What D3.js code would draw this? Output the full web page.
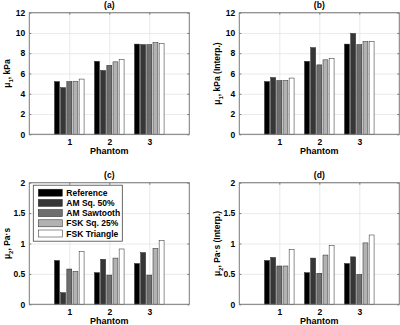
<!DOCTYPE html>
<html>
<head>
<meta charset="utf-8">
<script src="https://cdn.jsdelivr.net/npm/d3@7"></script>
<style>
  body { margin: 0; background: #fff; }
  svg { display: block; }
  text { font-family: "Liberation Sans", Arial, sans-serif; font-weight: bold; fill: #000; }
</style>
</head>
<body>
<div id="chart"></div>
<script>
// data
var phantoms = [1, 2, 3];
var seriesNames = ["Reference", "AM Sq. 50%", "AM Sawtooth", "FSK Sq. 25%", "FSK Triangle"];
var seriesColors = ["#000000", "#363636", "#6e6e6e", "#b2b2b2", "#ffffff"];

// panel (a) mu1, kPa
var mu1 = [
    [5.2, 7.2, 8.9],
    [4.6, 6.3, 8.85],
    [5.2, 6.8, 8.85],
    [5.2, 7.15, 9.05],
    [5.45, 7.4, 8.95]
];
// panel (b) mu1, kPa (Interp.)
var mu1Interp = [
    [5.2, 7.2, 8.9],
    [5.6, 8.55, 9.95],
    [5.3, 6.85, 8.85],
    [5.3, 7.35, 9.15],
    [5.55, 7.5, 9.15]
];
// panel (c) mu2, Pa.s
var mu2 = [
    [0.72, 0.52, 0.67],
    [0.19, 0.74, 0.85],
    [0.58, 0.48, 0.48],
    [0.54, 0.76, 0.92],
    [0.87, 0.91, 1.05]
];
// panel (d) mu2, Pa.s (Interp.)
var mu2Interp = [
    [0.72, 0.52, 0.67],
    [0.77, 0.76, 0.78],
    [0.63, 0.51, 0.49],
    [0.63, 0.81, 1.01],
    [0.90, 0.97, 1.14]
];

var yTicksMu1 = [0, 2, 4, 6, 8, 10, 12];
var yTicksMu2 = [0, 0.5, 1, 1.5, 2];

var panels = [
    { id: "(a)", data: mu1, yMax: 12, ticks: yTicksMu1, label: ["μ", "1", ", kPa"], left: 29.3, top: 12.7 },
    { id: "(b)", data: mu1Interp, yMax: 12, ticks: yTicksMu1, label: ["μ", "1", ", kPa (Interp.)"], left: 239.3, top: 12.7 },
    { id: "(c)", data: mu2, yMax: 2, ticks: yTicksMu2, label: ["μ", "2", ", Pa·s"], left: 29.3, top: 182.7, legend: true },
    { id: "(d)", data: mu2Interp, yMax: 2, ticks: yTicksMu2, label: ["μ", "2", ", Pa·s (Interp.)"], left: 239.3, top: 182.7 }
];

var W = 400, H = 325;
var pw = 160, ph = 121.6;
var fs = 8.5;
var fmt = function (d) { return String(d); };

var svg = d3.select("#chart").append("svg")
    .attr("width", W)
    .attr("height", H);

// matlab style grouped bars
var n = seriesNames.length;
var groupWidth = Math.min(0.8, n / (n + 1.5));
var slot = groupWidth / n;

var x = d3.scaleLinear().domain([0, 4]).range([0, pw]);

panels.forEach(function (p) {
    var g = svg.append("g").attr("transform", "translate(" + p.left + "," + p.top + ")");
    var y = d3.scaleLinear().domain([0, p.yMax]).range([ph, 0]);

    // grid
    g.append("g")
        .call(d3.axisLeft(y).tickValues(p.ticks).tickSize(-pw).tickFormat(""))
        .call(function (a) {
            a.select(".domain").remove();
            a.selectAll("line").attr("stroke", "#e4e4e4").attr("stroke-width", 0.8);
        });
    g.append("g")
        .attr("transform", "translate(0," + ph + ")")
        .call(d3.axisBottom(x).tickValues(phantoms).tickSize(-ph).tickFormat(""))
        .call(function (a) {
            a.select(".domain").remove();
            a.selectAll("line").attr("stroke", "#e4e4e4").attr("stroke-width", 0.8);
        });

    // bars
    p.data.forEach(function (vals, j) {
        var off = -groupWidth / 2 + (j + 0.5) * slot;
        var bw = x(slot * 0.8) - x(0);
        g.selectAll(".bar" + j)
            .data(vals)
            .enter()
            .append("rect")
            .attr("x", function (d, i) { return x(phantoms[i] + off) - bw / 2; })
            .attr("y", function (d) { return y(d); })
            .attr("width", bw)
            .attr("height", function (d) { return ph - y(d); })
            .attr("fill", seriesColors[j])
            .attr("stroke", "#222")
            .attr("stroke-width", 0.5);
    });

    // box
    g.append("rect")
        .attr("width", pw).attr("height", ph)
        .attr("fill", "none")
        .attr("stroke", "#7a7a7a")
        .attr("stroke-width", 1);

    // axes with inward ticks
    var ya = g.append("g")
        .call(d3.axisLeft(y).tickValues(p.ticks).tickFormat(fmt).tickSizeInner(-2).tickSizeOuter(0).tickPadding(4));
    ya.select(".domain").remove();
    ya.selectAll("line").attr("stroke", "#7a7a7a");
    ya.selectAll("text").style("font-size", fs + "px");

    var yr = g.append("g")
        .attr("transform", "translate(" + pw + ",0)")
        .call(d3.axisRight(y).tickValues(p.ticks).tickSizeInner(-2).tickSizeOuter(0).tickFormat(""));
    yr.select(".domain").remove();
    yr.selectAll("line").attr("stroke", "#7a7a7a");

    var xa = g.append("g")
        .attr("transform", "translate(0," + ph + ")")
        .call(d3.axisBottom(x).tickValues(phantoms).tickFormat(fmt).tickSizeInner(-2).tickSizeOuter(0).tickPadding(5));
    xa.select(".domain").remove();
    xa.selectAll("line").attr("stroke", "#7a7a7a");
    xa.selectAll("text").style("font-size", fs + "px");

    var xt = g.append("g")
        .call(d3.axisTop(x).tickValues(phantoms).tickSizeInner(-2).tickSizeOuter(0).tickFormat(""));
    xt.select(".domain").remove();
    xt.selectAll("line").attr("stroke", "#7a7a7a");

    // titles and labels
    g.append("text")
        .attr("x", pw / 2).attr("y", -5)
        .attr("text-anchor", "middle")
        .style("font-size", fs + "px")
        .text(p.id);

    g.append("text")
        .attr("x", pw / 2).attr("y", ph + 19.5)
        .attr("text-anchor", "middle")
        .style("font-size", (fs + 0.5) + "px")
        .text("Phantom");

    var yl = g.append("text")
        .attr("transform", "translate(-19," + (ph / 2) + ") rotate(-90)")
        .attr("text-anchor", "middle")
        .style("font-size", fs + "px");
    yl.append("tspan").text(p.label[0]);
    yl.append("tspan").attr("dy", 2.5).style("font-size", "6px").text(p.label[1]);
    yl.append("tspan").attr("dy", -2.5).text(p.label[2]);

    if (p.legend) {
        var lg = g.append("g").attr("transform", "translate(4,2.5)");
        lg.append("rect")
            .attr("width", 89).attr("height", 56)
            .attr("fill", "#fff")
            .attr("stroke", "#444")
            .attr("stroke-width", 0.8);
        seriesNames.forEach(function (s, j) {
            var row = lg.append("g").attr("transform", "translate(0," + (4 + j * 10.2) + ")");
            row.append("rect")
                .attr("x", 5).attr("y", 0)
                .attr("width", 24).attr("height", 7)
                .attr("fill", seriesColors[j])
                .attr("stroke", "#222")
                .attr("stroke-width", 0.5);
            row.append("text")
                .attr("x", 33).attr("y", 6.5)
                .style("font-size", fs + "px")
                .text(s);
        });
    }
});
</script>
</body>
</html>
